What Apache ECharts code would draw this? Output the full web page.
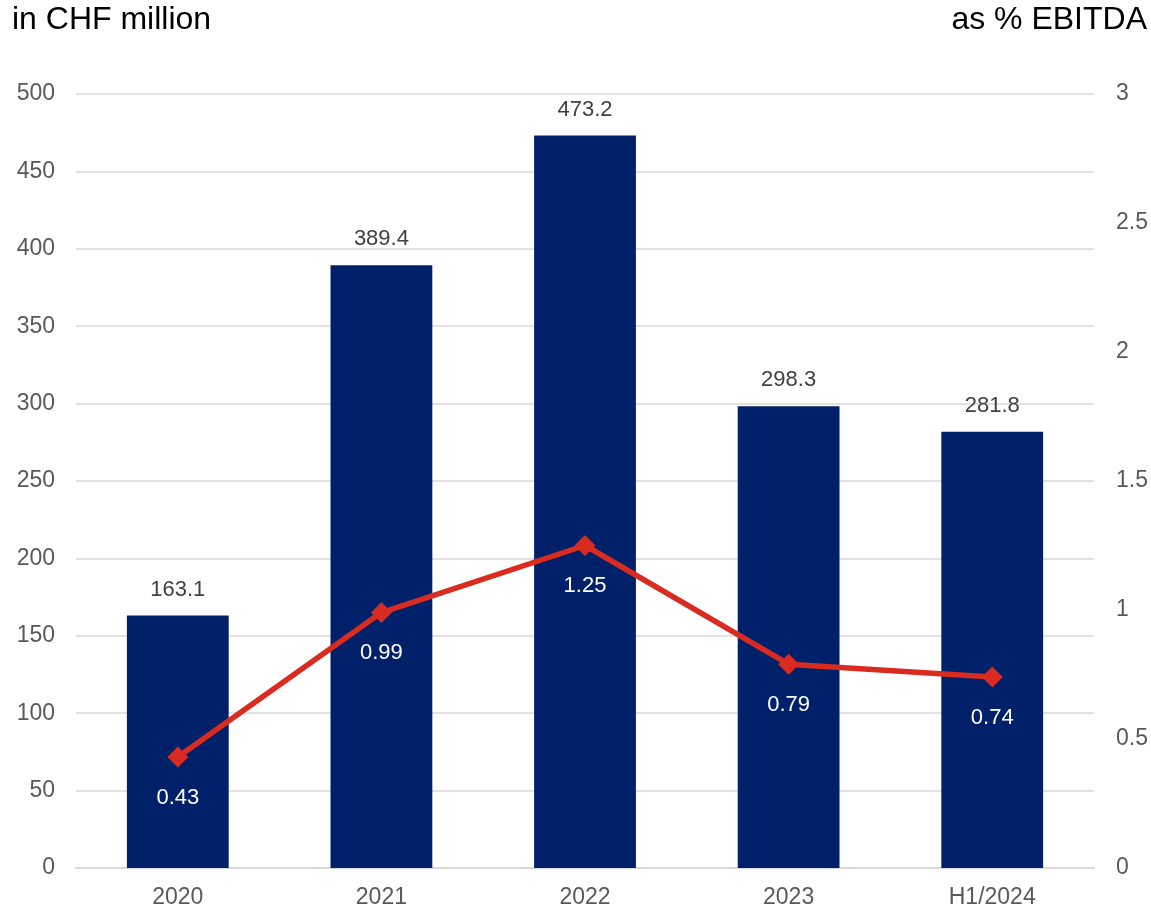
<!DOCTYPE html>
<html>
<head>
<meta charset="utf-8">
<script src="https://cdn.jsdelivr.net/npm/echarts@6/dist/echarts.min.js"></script>
<style>
  html, body { margin: 0; padding: 0; background: #fff; }
  #chart { width: 1151px; height: 910px; }
</style>
</head>
<body>
<div id="chart"></div>
<script>
const categories = ['2020', '2021', '2022', '2023', 'H1/2024'];
const amountChf = [163.1, 389.4, 473.2, 298.3, 281.8];
const pctEbitda = [0.43, 0.99, 1.25, 0.79, 0.74];

const font = '"Liberation Sans", Arial, sans-serif';
const chart = echarts.init(document.getElementById('chart'));

chart.setOption({
  animation: false,
  textStyle: { fontFamily: font },
  title: [
    { text: 'in CHF million', left: 12, top: 4, padding: 0,
      textStyle: { fontFamily: font, fontSize: 32, fontWeight: 'normal', color: '#000' } },
    { text: 'as % EBITDA', right: 4, top: 4, padding: 0,
      textStyle: { fontFamily: font, fontSize: 32, fontWeight: 'normal', color: '#000' } }
  ],
  grid: { left: 76, right: 56, top: 94, bottom: 42 },
  xAxis: {
    type: 'category',
    data: categories,
    axisLine: { lineStyle: { color: '#d9d9d9', width: 2 } },
    axisTick: { show: false },
    axisLabel: { color: '#595959', fontSize: 23, margin: 18, fontFamily: font }
  },
  yAxis: [
    {
      type: 'value', min: 0, max: 500, interval: 50,
      axisLine: { show: false }, axisTick: { show: false },
      axisLabel: { color: '#595959', fontSize: 23, margin: 21, fontFamily: font },
      splitLine: { lineStyle: { color: '#d9d9d9', width: 1.5 } }
    },
    {
      type: 'value', min: 0, max: 3, interval: 0.5,
      axisLine: { show: false }, axisTick: { show: false },
      axisLabel: { color: '#595959', fontSize: 23, margin: 22, fontFamily: font },
      splitLine: { show: false }
    }
  ],
  series: [
    {
      name: 'in CHF million',
      type: 'bar',
      data: amountChf,
      barWidth: '50%',
      itemStyle: { color: '#002169' },
      label: {
        show: true, position: 'top', distance: 15,
        color: '#404040', fontSize: 22, fontFamily: font,
        formatter: p => p.value.toFixed(1)
      },
      z: 2
    },
    {
      name: 'as % EBITDA',
      type: 'line',
      yAxisIndex: 1,
      data: pctEbitda,
      symbol: 'diamond',
      symbolSize: 21,
      lineStyle: { color: '#d92b1f', width: 5.5 },
      itemStyle: { color: '#d92b1f' },
      label: {
        show: true, position: 'bottom', distance: 19,
        color: '#ffffff', fontSize: 22, fontFamily: font,
        formatter: p => p.value.toFixed(2)
      },
      z: 3
    }
  ]
});
</script>
</body>
</html>
